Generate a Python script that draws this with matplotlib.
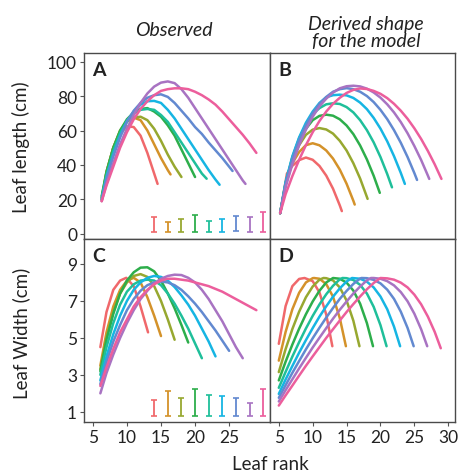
import matplotlib
matplotlib.use("Agg")
import matplotlib.pyplot as plt

plt.rcParams["font.family"] = ["Lato", "DejaVu Sans"]

colors = ["#F0686B", "#D4922A", "#97A830", "#2DAE4B", "#1FBF9A",
          "#16B5E3", "#6289D0", "#A873C2", "#EC5E9C"]

# Panel A: observed leaf length (cm) vs leaf rank
obs_len_x = [
    [6.3, 7, 8, 9, 10, 11, 12, 13, 14, 14.5],
    [6.3] + list(range(7, 17)) + [16.4],
    [6.3] + list(range(7, 19)),
    [6.3] + list(range(7, 21)),
    [6.3] + list(range(7, 22)) + [21.7],
    [6.3] + list(range(7, 24)) + [23.6],
    [6.3] + list(range(7, 26)) + [25.5],
    [6.3] + list(range(7, 28)) + [27.4],
    [6.3] + list(range(7, 30)),
]
obs_len_y = [
    [19, 36, 50, 58, 62.5, 62, 57, 47, 35, 29],
    [20, 35, 50, 60, 65.5, 67.5, 66, 60, 52, 44, 37, 34.5],
    [21, 36, 50, 59.5, 65, 67.5, 68, 66, 61, 54, 46, 39, 33],
    [22, 36, 50, 60, 66.5, 70.5, 72.5, 73, 71, 68, 63, 57, 49, 41, 33],
    [21, 34, 48, 58.5, 65.5, 70, 72, 72.5, 72, 69, 65, 59, 53, 47, 41, 35, 32],
    [20, 33, 46, 57, 65.5, 71, 75, 77, 77.2, 76, 72, 67, 61, 55, 49, 43, 37, 31.5, 28.5],
    [20, 32, 45, 56, 65, 71.5, 76, 79, 80.5, 81, 79.5, 76, 71.5, 67, 62, 58, 53, 48.5,
     44, 39, 36.5],
    [19, 29, 41, 52, 61, 69, 76, 81.5, 85.5, 87.8, 88.5, 87.5, 84, 79, 73, 67, 61, 55,
     49, 43, 37, 31, 29],
    [19, 28, 39, 50, 59, 66.5, 72.5, 77, 80.5, 83, 84, 84.5, 84.5, 84, 82.5, 80.5, 78,
     75, 71, 66.5, 62, 57.5, 52.5, 47],
]

# Panel B: derived leaf length shape
mod_len_x = [
    [5.2, 6.2, 7, 8, 9, 10, 11, 12, 13, 14, 14.3],
    [5.2] + list(range(6, 17)) + [16.2],
    [5.2] + list(range(6, 19)) + [18.1],
    [5.2] + list(range(6, 20)) + [19.9],
    [5.2] + list(range(6, 22)) + [21.7],
    [5.2] + list(range(6, 24)) + [23.6],
    [5.2] + list(range(6, 26)) + [25.4],
    [5.2] + list(range(6, 28)) + [27.2],
    [5.2] + list(range(6, 30)),
]
mod_len_y = [
    [12, 35, 39.5, 42.8, 44.3, 43, 39.4, 33.8, 26.2, 16.5, 13.2],
    [12, 28.5, 41, 47.5, 51.5, 52.6, 51.4, 48.4, 43.7, 37.3, 29.1, 19.2, 17],
    [12, 28.5, 42.5, 51.5, 57.5, 60.5, 61.4, 60.6, 58.2, 54, 48.4, 41, 32.1, 21.4, 20.3],
    [12, 29, 44, 54, 61, 66, 68.5, 69.2, 68.6, 66.5, 62.9, 57.9, 51.3, 43.2, 33.7, 23.8],
    [12, 29.5, 44.5, 55.5, 63.5, 69.5, 73, 75.2, 75.8, 75.4, 73.6, 70.5, 66, 60.2, 53.1,
     44.6, 34.7, 27],
    [12, 30, 45, 56, 64.5, 71, 76, 79.3, 80.5, 80.8, 80.4, 78.9, 76.2, 72.4, 67.3, 61.1,
     53.7, 45.1, 35.4, 29],
    [12, 29, 43.5, 54.5, 63, 70, 75.5, 79.5, 82.5, 84, 84.6, 84, 82.5, 80, 76.5, 72, 66.6,
     60.2, 52.9, 44.6, 35.3, 31.3],
    [12, 27, 40.5, 51.5, 60.5, 68, 74, 78.5, 82, 84.5, 85.7, 86, 85.6, 84.3, 82.1, 79.1,
     75.2, 70.5, 64.9, 58.4, 51, 42.9, 33.8, 31.9],
    [12, 23, 33.5, 43, 51.5, 59, 65.5, 71, 75.5, 79, 81.8, 83.6, 84.4, 84.1, 83, 81.3,
     78.8, 75.5, 71.5, 66.8, 61.3, 55.1, 48.1, 40.4, 31.9],
]

# Panel C: observed leaf width (cm)
obs_wid_x = [
    [6.1, 7, 8, 9, 9.9, 11, 12, 13.1],
    [6.1] + list(range(7, 16)),
    [6.1] + list(range(7, 18)),
    [6.1] + list(range(7, 20)),
    [6.1] + list(range(7, 22)),
    [6.1] + list(range(7, 24)),
    [6.1] + list(range(7, 26)),
    [6.1] + list(range(7, 28)),
    [6.1] + list(range(7, 30)),
]
obs_wid_y = [
    [4.5, 6.4, 7.6, 8.1, 8.25, 7.8, 6.7, 5.3],
    [3.5, 5.3, 6.7, 7.6, 8.1, 8.25, 8.0, 7.2, 6.2, 5.1],
    [3.3, 5.0, 6.4, 7.4, 8.0, 8.35, 8.45, 8.3, 7.8, 7.0, 6.0, 4.9],
    [3.2, 4.9, 6.3, 7.4, 8.1, 8.55, 8.8, 8.82, 8.6, 8.1, 7.4, 6.6, 5.7, 4.75],
    [3.0, 4.5, 5.8, 6.8, 7.5, 7.9, 8.1, 8.15, 8.1, 7.85, 7.4, 6.85, 6.2, 5.5, 4.7, 3.9],
    [2.7, 4.0, 5.2, 6.2, 7.0, 7.6, 8.0, 8.25, 8.35, 8.3, 8.1, 7.75, 7.3, 6.8, 6.2, 5.5,
     4.8, 4.0],
    [2.5, 3.7, 4.8, 5.7, 6.5, 7.1, 7.55, 7.85, 8.0, 8.05, 8.0, 7.85, 7.6, 7.25, 6.85,
     6.4, 5.9, 5.4, 4.85, 4.3],
    [2.0, 3.1, 4.1, 5.0, 5.8, 6.5, 7.1, 7.55, 7.95, 8.2, 8.35, 8.42, 8.4, 8.25, 8.0, 7.6,
     7.1, 6.5, 5.9, 5.2, 4.5, 3.9],
    [2.4, 3.4, 4.4, 5.3, 6.0, 6.7, 7.2, 7.6, 7.9, 8.1, 8.2, 8.2, 8.15, 8.1, 8.0, 7.9,
     7.8, 7.65, 7.5, 7.3, 7.1, 6.9, 6.7, 6.5],
]

# Panel D: derived leaf width shape
mod_wid_x = [
    [5, 6, 7, 8, 8.8, 10, 11, 12, 12.9],
    [5, 6, 7, 8, 9, 10, 10.2, 11, 12, 13, 14, 14.9],
    [5, 6, 7, 8, 9, 10, 11, 11.6, 12, 13, 14, 15, 16, 16.9],
    list(range(5, 19)) + [18.9],
    list(range(5, 15)) + [14.4] + list(range(15, 21)) + [20.9],
    list(range(5, 16)) + [15.8] + list(range(17, 23)) + [22.9],
    list(range(5, 18)) + [17.2] + list(range(18, 25)) + [24.9],
    list(range(5, 19)) + [18.6] + list(range(19, 27)) + [26.9],
    list(range(5, 29)) + [28.9],
]
mod_wid_y = [
    [4.68, 6.72, 7.80, 8.19, 8.24, 8.07, 7.46, 6.26, 4.55],
    [3.77, 5.32, 6.55, 7.44, 8.0, 8.23, 8.24, 8.2, 7.91, 7.23, 6.07, 4.55],
    [3.15, 4.39, 5.48, 6.42, 7.2, 7.78, 8.15, 8.24, 8.23, 8.11, 7.73, 7.02, 5.93, 4.55],
    [2.7, 3.71, 4.64, 5.5, 6.28, 6.97, 7.55, 8.0, 8.24, 8.2, 7.99, 7.56, 6.85, 5.8, 4.55],
    [2.3, 3.16, 3.99, 4.77, 5.51, 6.19, 6.81, 7.36, 7.82, 8.17, 8.24, 8.23, 8.13, 7.87,
     7.4, 6.68, 5.69, 4.55],
    [1.97, 2.75, 3.48, 4.2, 4.88, 5.53, 6.15, 6.71, 7.23, 7.68, 8.05, 8.24, 8.2, 8.04,
     7.73, 7.24, 6.55, 5.61, 4.55],
    [1.76, 2.44, 3.11, 3.75, 4.38, 4.98, 5.55, 6.1, 6.62, 7.11, 7.54, 7.92, 8.21, 8.24,
     8.23, 8.14, 7.95, 7.61, 7.11, 6.42, 5.54, 4.55],
    [1.56, 2.17, 2.76, 3.35, 3.92, 4.48, 5.01, 5.53, 6.04, 6.52, 6.97, 7.4, 7.78, 8.11,
     8.24, 8.24, 8.2, 8.07, 7.84, 7.48, 6.98, 6.31, 5.47, 4.55],
    [1.34, 1.89, 2.42, 2.96, 3.49, 4.0, 4.5, 5.0, 5.47, 5.94, 6.4, 6.83, 7.24, 7.63, 7.97,
     8.24, 8.22, 8.15, 7.99, 7.73, 7.34, 6.82, 6.15, 5.33, 4.44],
]

# error bars drawn near the bottom of the observed panels
err_x = [14, 16, 18, 20, 22, 24, 26, 28, 30]
err_len_lo = [1.3, 1.3, 1.3, 1.3, 1.3, 1.3, 1.7, 1.3, 1.3]
err_len_hi = [10, 6.8, 8.7, 11, 7.7, 8.9, 10.3, 9.7, 12.6]
err_wid_lo = [0.8, 0.8, 0.8, 0.8, 0.8, 0.8, 0.8, 0.8, 0.8]
err_wid_hi = [1.65, 2.15, 1.74, 2.24, 1.9, 1.86, 1.74, 1.47, 2.24]

W, H = 461, 477
fig = plt.figure(figsize=(W / 100, H / 100), dpi=100)


def box(x0, y0, x1, y1):
    return [x0 / W, 1 - y1 / H, (x1 - x0) / W, (y1 - y0) / H]


ax_a = fig.add_axes(box(84, 54, 270, 240))
ax_b = fig.add_axes(box(270, 54, 455, 240))
ax_c = fig.add_axes(box(84, 240, 270, 423))
ax_d = fig.add_axes(box(270, 240, 455, 423))

panels = [
    (ax_a, obs_len_x, obs_len_y, "A"),
    (ax_b, mod_len_x, mod_len_y, "B"),
    (ax_c, obs_wid_x, obs_wid_y, "C"),
    (ax_d, mod_wid_x, mod_wid_y, "D"),
]
for ax, xs, ys, letter in panels:
    for x, y, c in zip(xs, ys, colors):
        ax.plot(x, y, color=c, lw=1.8, solid_capstyle="round")
    ax.text(0.045, 0.955, letter, transform=ax.transAxes, ha="left", va="top",
            fontsize=14, fontweight="bold", color="#222222")
    ax.set_xlim(3.7, 31.0)
    for s in ax.spines.values():
        s.set_color("#4a4a4a")
        s.set_linewidth(1.0)
    ax.tick_params(length=3, width=0.8, color="#555555", labelsize=12.5,
                   labelcolor="#222222", pad=2)

for x, lo, hi, c in zip(err_x, err_len_lo, err_len_hi, colors):
    mid = (lo + hi) / 2
    ax_a.errorbar([x], [mid], yerr=[[mid - lo], [hi - mid]], fmt="none",
                  ecolor=c, elinewidth=1.3, capsize=2.2, capthick=1.2)
for x, lo, hi, c in zip(err_x, err_wid_lo, err_wid_hi, colors):
    mid = (lo + hi) / 2
    ax_c.errorbar([x], [mid], yerr=[[mid - lo], [hi - mid]], fmt="none",
                  ecolor=c, elinewidth=1.3, capsize=2.2, capthick=1.2)

for ax in (ax_a, ax_b):
    ax.set_ylim(-3, 105)
for ax in (ax_c, ax_d):
    ax.set_ylim(0.45, 10.35)

ax_a.set_yticks([0, 20, 40, 60, 80, 100])
ax_c.set_yticks([1, 3, 5, 7, 9])
ax_c.set_xticks([5, 10, 15, 20, 25])
ax_d.set_xticks([5, 10, 15, 20, 25, 30])

for ax in (ax_a, ax_b):
    ax.tick_params(axis="x", bottom=False, labelbottom=False)
for ax in (ax_b, ax_d):
    ax.tick_params(axis="y", left=False, labelleft=False)

fig.text(174 / W, 1 - 31 / H, "Observed", ha="center", va="center",
         fontsize=14, style="italic", color="#222222")
fig.text(366 / W, 1 - 33 / H, "Derived shape\nfor the model", ha="center",
         va="center", fontsize=14, style="italic", color="#222222", linespacing=0.95)
fig.text(21 / W, 1 - 147 / H, "Leaf length (cm)", rotation=90, ha="center",
         va="center", fontsize=13.5, color="#222222")
fig.text(21 / W, 1 - 333 / H, "Leaf Width (cm)", rotation=90, ha="center",
         va="center", fontsize=13.5, color="#222222")
fig.text(270 / W, 1 - 465 / H, "Leaf rank", ha="center", va="center",
         fontsize=13.5, color="#222222")

fig.savefig("out.png", dpi=100)
